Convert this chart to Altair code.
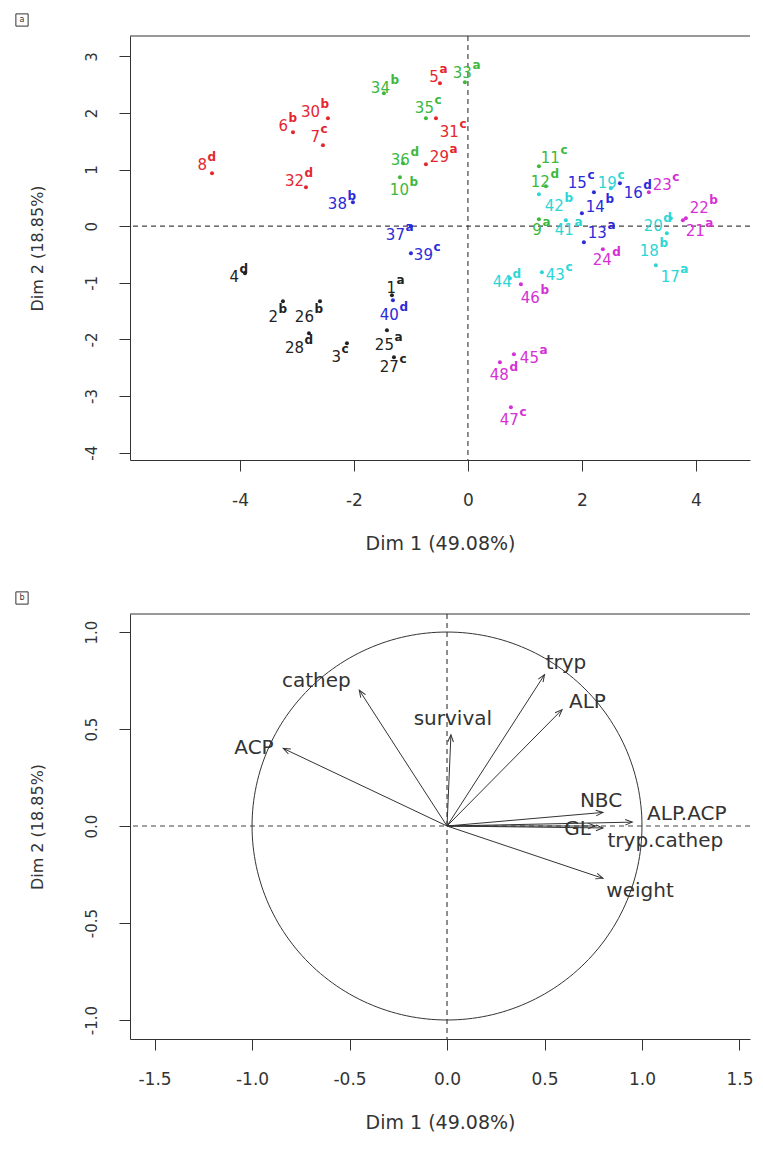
import altair as alt
import pandas as pd
import numpy as np

FONT = "DejaVu Sans"
AX = "#333333"

# ---------------- panel a : individuals ----------------
ids = ["1", "2", "3", "4", "5", "6", "7", "8", "9", "10", "11", "12",
       "13", "14", "15", "16", "17", "18", "19", "20", "21", "22", "23", "24",
       "25", "26", "27", "28", "29", "30", "31", "32", "33", "34", "35", "36",
       "37", "38", "39", "40", "41", "42", "43", "44", "45", "46", "47", "48"]
sups = ["a", "b", "c", "d", "a", "b", "c", "d", "a", "b", "c", "d",
        "a", "b", "c", "d", "a", "b", "c", "d", "a", "b", "c", "d",
        "a", "b", "c", "d", "a", "b", "c", "d", "a", "b", "c", "d",
        "a", "b", "c", "d", "a", "b", "c", "d", "a", "b", "c", "d"]
groups = ["g1", "g1", "g1", "g1", "g2", "g2", "g2", "g2", "g3", "g3", "g3", "g3",
          "g4", "g4", "g4", "g4", "g5", "g5", "g5", "g5", "g6", "g6", "g6", "g6",
          "g1", "g1", "g1", "g1", "g2", "g2", "g2", "g2", "g3", "g3", "g3", "g3",
          "g4", "g4", "g4", "g4", "g5", "g5", "g5", "g5", "g6", "g6", "g6", "g6"]
dim1 = [-1.333, -3.246, -2.123, -3.912, -0.491, -3.070, -2.544, -4.491,
        1.246, -1.193, 1.246, 1.368, 2.035, 2.000, 2.211, 2.667,
        3.298, 3.491, 2.509, 3.561, 3.772, 3.825, 3.175, 2.368,
        -1.421, -2.596, -1.298, -2.789, -0.737, -2.456, -0.561, -2.842,
        -0.053, -1.474, -0.737, -1.140, -1.000, -2.018, -1.000, -1.316,
        1.719, 1.246, 1.298, 0.737, 0.807, 0.930, 0.754, 0.561]
dim2 = [-1.219, -1.325, -2.067, -0.830, 2.527, 1.661, 1.431, 0.936,
        0.124, 0.866, 1.060, 0.707, -0.283, 0.230, 0.601, 0.760,
        -0.689, -0.124, 0.671, 0.141, 0.106, 0.141, 0.601, -0.406,
        -1.837, -1.325, -2.314, -1.890, 1.095, 1.908, 1.908, 0.689,
        2.544, 2.350, 1.908, 1.113, 0.000, 0.424, -0.477, -1.307,
        0.106, 0.565, -0.813, -0.919, -2.261, -1.025, -3.198, -2.403]
# label anchors (right end of the number), in data units
lab1 = [-1.263, -3.333, -2.228, -4.018, -0.509, -3.158, -2.596, -4.579,
        1.298, -1.035, 1.614, 1.439, 2.439, 2.404, 2.088, 3.070,
        3.719, 3.351, 2.614, 3.421, 4.158, 4.228, 3.579, 2.526,
        -1.298, -2.702, -1.211, -2.877, -0.333, -2.596, -0.158, -2.877,
        0.070, -1.368, -0.596, -1.018, -1.105, -2.123, -0.614, -1.211,
        1.860, 1.684, 1.702, 0.772, 1.246, 1.263, 0.895, 0.719]
lab2 = [-1.095, -1.608, -2.314, -0.901, 2.633, 1.767, 1.572, 1.078,
        -0.060, 0.636, 1.201, 0.777, -0.124, 0.336, 0.760, 0.583,
        -0.901, -0.430, 0.760, 0.000, -0.088, 0.318, 0.724, -0.601,
        -2.102, -1.608, -2.491, -2.155, 1.219, 2.014, 1.661, 0.795,
        2.703, 2.438, 2.085, 1.166, -0.159, 0.389, -0.512, -1.572,
        -0.070, 0.360, -0.866, -0.989, -2.332, -1.272, -3.428, -2.633]
group_names = ["g1", "g2", "g3", "g4", "g5", "g6"]
group_colors = ["#222222", "#E5262E", "#3DB83D", "#2B2BD8", "#2CD6D6", "#D530D5"]

# ---------------- panel b : variables ----------------
var_names = ["ACP", "cathep", "survival", "tryp", "ALP", "NBC", "GL",
             "ALP.ACP", "tryp.cathep", "weight"]
var_x = [-0.84, -0.45, 0.02, 0.50, 0.59, 0.80, 0.76, 0.95, 0.80, 0.80]
var_y = [0.40, 0.70, 0.47, 0.78, 0.60, 0.07, 0.00, 0.02, -0.01, -0.27]
vlab_x = [-0.99, -0.67, 0.03, 0.61, 0.72, 0.79, 0.67, 1.23, 1.12, 0.99]
vlab_y = [0.40, 0.75, 0.55, 0.84, 0.64, 0.13, -0.015, 0.062, -0.077, -0.335]

W = 620
H = 424

df_a = pd.DataFrame({"num": ids, "sup": sups, "grp": groups,
                     "dim1": dim1, "dim2": dim2, "lx": lab1, "ly": lab2})

def ax_x(vals, fmt):
    return alt.Axis(values=vals, title="Dim 1 (49.08%)",
                    labelExpr=f"datum.value < 0 ? '-' + format(-datum.value, '{fmt}') : format(datum.value, '{fmt}')",
                    labelPadding=21, titlePadding=26, grid=False,
                    labelFontSize=17, titleFontSize=19)

def ax_y(vals, fmt):
    return alt.Axis(values=vals, title="Dim 2 (18.85%)", labelAngle=-90,
                    labelAlign="center", labelBaseline="bottom",
                    labelExpr=f"datum.value < 0 ? '-' + format(-datum.value, '{fmt}') : format(datum.value, '{fmt}')",
                    labelPadding=20, titlePadding=39, grid=False,
                    labelFontSize=15, titleFontSize=16)

xa = alt.Scale(domain=[-5.93, 4.95], nice=False, zero=False)
ya = alt.Scale(domain=[-4.13, 3.36], nice=False, zero=False)
axa = ax_x([-4, -2, 0, 2, 4], "d")
aya = ax_y([-4, -3, -2, -1, 0, 1, 2, 3], "d")
col = alt.Color("grp:N", scale=alt.Scale(domain=group_names, range=group_colors), legend=None)

base_a = alt.Chart(df_a)
pts = base_a.mark_circle(size=16, opacity=1).encode(
    x=alt.X("dim1:Q", scale=xa, axis=axa),
    y=alt.Y("dim2:Q", scale=ya, axis=aya),
    color=col)
nums = base_a.mark_text(align="right", baseline="middle", fontSize=15, font=FONT).encode(
    x=alt.X("lx:Q", scale=xa, axis=axa),
    y=alt.Y("ly:Q", scale=ya, axis=aya),
    text="num:N", color=col)
sup_t = base_a.mark_text(align="left", baseline="middle", fontSize=12, dx=0.5, dy=-8,
                         font=FONT, fontWeight="bold").encode(
    x=alt.X("lx:Q", scale=xa, axis=axa),
    y=alt.Y("ly:Q", scale=ya, axis=aya),
    text="sup:N", color=col)

one = pd.DataFrame({"t": ["a"]})
one_b = pd.DataFrame({"t": ["b"]})

def frame(label_df, w):
    top = alt.Chart(label_df).mark_rule(color=AX, strokeWidth=1).encode(
        x=alt.value(0), x2=alt.value(w), y=alt.value(0))
    box = alt.Chart(label_df).mark_point(shape="square", filled=False, size=150,
                                         color=AX, strokeWidth=1, opacity=1).encode(
        x=alt.value(-108), y=alt.value(-16))
    txt = alt.Chart(label_df).mark_text(fontSize=8, font=FONT, color=AX).encode(
        x=alt.value(-108), y=alt.value(-16), text="t:N")
    return [top, box, txt]

def refs(xs, ys):
    d = pd.DataFrame({"v": [0]})
    v = alt.Chart(d).mark_rule(color="#444444", strokeDash=[5, 4], strokeWidth=1.2).encode(
        x=alt.X("v:Q", scale=xs))
    h = alt.Chart(d).mark_rule(color="#444444", strokeDash=[5, 4], strokeWidth=1.2).encode(
        y=alt.Y("v:Q", scale=ys))
    return [v, h]

panel_a = alt.layer(*refs(xa, ya), pts, nums, sup_t, *frame(one, W)).properties(width=W, height=H)

# ---------------- panel b ----------------
xb = alt.Scale(domain=[-1.626, 1.554], nice=False, zero=False)
yb = alt.Scale(domain=[-1.098, 1.093], nice=False, zero=False)
axb = ax_x([-1.5, -1.0, -0.5, 0.0, 0.5, 1.0, 1.5], ".1f")
ayb = ax_y([-1.0, -0.5, 0.0, 0.5, 1.0], ".1f")

vx = np.array(var_x)
vy = np.array(var_y)
df_b = pd.DataFrame({"name": var_names, "vx": vx, "vy": vy, "ox": 0.0, "oy": 0.0,
                     "lx": vlab_x, "ly": vlab_y,
                     "ang": np.degrees(np.arctan2(vx, vy)) % 360})
t = np.linspace(0, 2 * np.pi, 241)
df_c = pd.DataFrame({"cx": np.cos(t), "cy": np.sin(t), "o": np.arange(len(t))})

circle = alt.Chart(df_c).mark_line(color=AX, strokeWidth=1).encode(
    x=alt.X("cx:Q", scale=xb, axis=axb), y=alt.Y("cy:Q", scale=yb, axis=ayb), order="o:Q")
shafts = alt.Chart(df_b).mark_rule(color=AX, strokeWidth=1).encode(
    x=alt.X("ox:Q", scale=xb, axis=axb), y=alt.Y("oy:Q", scale=yb, axis=ayb),
    x2="vx:Q", y2="vy:Q")
heads = alt.Chart(df_b).mark_point(shape="M-0.4,1L0,0L0.4,1", filled=False, size=200,
                                   color=AX, strokeWidth=1, opacity=1).encode(
    x=alt.X("vx:Q", scale=xb, axis=axb), y=alt.Y("vy:Q", scale=yb, axis=ayb),
    angle=alt.Angle("ang:Q", scale=None))
vlabels = alt.Chart(df_b).mark_text(fontSize=20, font=FONT, color=AX).encode(
    x=alt.X("lx:Q", scale=xb, axis=axb), y=alt.Y("ly:Q", scale=yb, axis=ayb), text="name:N")

panel_b = alt.layer(*refs(xb, yb), circle, shafts, heads, vlabels, *frame(one_b, W)).properties(
    width=W, height=425)

chart = alt.vconcat(panel_a, panel_b, spacing=36).properties(
    padding={"left": 5, "top": 3, "right": 0, "bottom": 5},
    background="white"
).configure_view(stroke=None).configure_axis(
    domainColor=AX, domainWidth=1, tickColor=AX, tickWidth=1, tickSize=11,
    labelColor=AX, labelFont=FONT,
    titleColor=AX, titleFont=FONT, titleFontWeight="normal"
)

chart.save("out.html", embed_options={"renderer": "svg", "actions": False})
